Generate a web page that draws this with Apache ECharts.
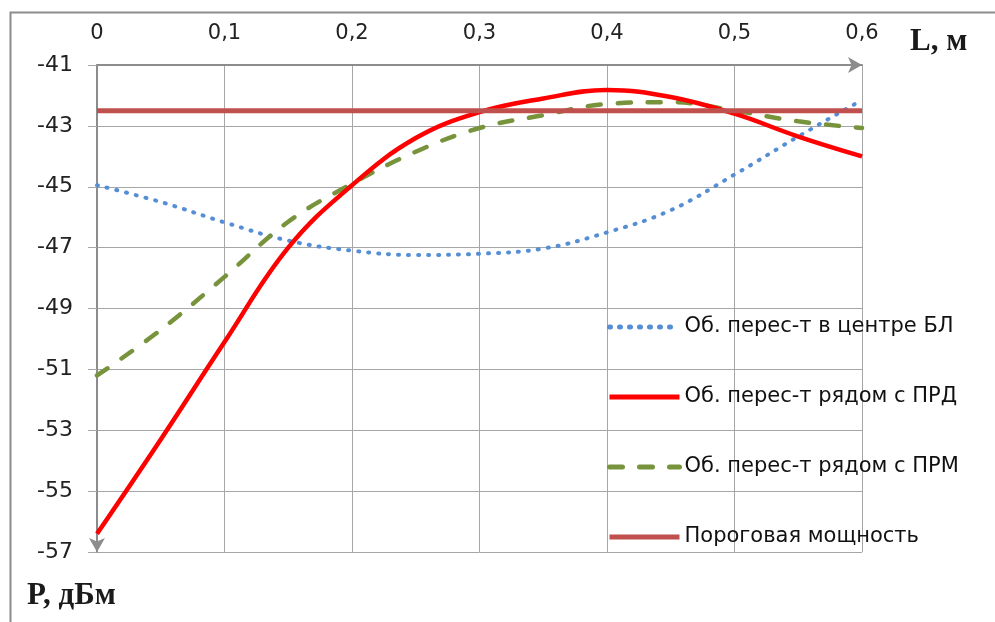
<!DOCTYPE html>
<html>
<head>
<meta charset="utf-8">
<script src="https://cdn.jsdelivr.net/npm/echarts@6/dist/echarts.min.js"></script>
<style>
  html, body { margin: 0; padding: 0; background: #fff; }
  #chart { width: 995px; height: 622px; }
</style>
</head>
<body>
<div id="chart"></div>
<script>
// distance L, м
var lengths = [0, 0.05, 0.1, 0.15, 0.2, 0.25, 0.3, 0.35, 0.4, 0.45, 0.5, 0.55, 0.6]
// power P, дБм
var centerBL = [-44.95, -45.5, -46.17, -46.77, -47.1, -47.24, -47.2, -47.03, -46.5, -45.77, -44.6, -43.35, -42.15]
var nearPRD = [-56.4, -53.3, -50.1, -47.0, -44.95, -43.4, -42.55, -42.1, -41.82, -42.05, -42.6, -43.35, -44.0]
var nearPRM = [-51.2, -49.7, -47.96, -46.15, -44.9, -43.85, -43.07, -42.65, -42.28, -42.22, -42.5, -42.85, -43.07]
var thresholdX = [0, 0.6]
var thresholdP = [-42.5, -42.5]

var seriesNames = ['Об. перес-т в центре БЛ', 'Об. перес-т рядом с ПРД', 'Об. перес-т рядом с ПРМ', 'Пороговая мощность']

function pairs(xs, ys) {
  return xs.map(function (x, i) { return [x, ys[i]] })
}

var chart = echarts.init(document.getElementById('chart'))
var font = '"DejaVu Sans", sans-serif'

chart.setOption({
  animation: false,
  backgroundColor: '#fff',
  graphic: [
    {
      type: 'rect',
      left: 8,
      top: 10,
      shape: { width: 1100, height: 700 },
      style: { fill: 'none', stroke: '#8c8c8c', lineWidth: 2 },
      silent: true
    }
  ],
  grid: { left: 97, top: 65, right: 133, bottom: 70 },
  legend: {
    orient: 'vertical',
    left: 602,
    top: 310,
    itemWidth: 70,
    itemHeight: 14,
    itemGap: 46,
    data: seriesNames,
    itemStyle: { color: 'rgba(0,0,0,0)', borderWidth: 0 },
    lineStyle: { width: 5 },
    textStyle: { fontFamily: font, fontSize: 21, color: '#111', lineHeight: 24 }
  },
  xAxis: {
    type: 'value',
    position: 'top',
    min: 0,
    max: 0.6,
    interval: 0.1,
    name: 'L, м',
    nameLocation: 'end',
    nameGap: 10,
    nameTextStyle: {
      fontFamily: '"Liberation Serif", serif',
      fontWeight: 'bold',
      fontSize: 31,
      color: '#1a1a1a',
      verticalAlign: 'bottom',
      padding: [0, 0, 8, 38]
    },
    axisLine: {
      show: true,
      lineStyle: { color: '#8c8c8c', width: 2 },
      symbol: ['none', 'arrow'],
      symbolSize: [12, 14],
      symbolOffset: [0, 0]
    },
    axisTick: { show: false },
    axisLabel: {
      margin: 21,
      fontFamily: font,
      fontSize: 21,
      color: '#222',
      formatter: function (v) { return String(Math.round(v * 10) / 10).replace('.', ',') }
    },
    splitLine: { show: true, lineStyle: { color: '#a6a6a6', width: 1 } }
  },
  yAxis: {
    type: 'value',
    min: -57,
    max: -41,
    interval: 2,
    name: 'P, дБм',
    nameLocation: 'start',
    nameGap: 28,
    nameTextStyle: {
      fontFamily: '"Liberation Serif", serif',
      fontWeight: 'bold',
      fontSize: 31,
      color: '#1a1a1a',
      align: 'left',
      padding: [0, 0, 0, -70]
    },
    axisLine: {
      show: true,
      lineStyle: { color: '#8c8c8c', width: 2 },
      symbol: ['arrow', 'none'],
      symbolSize: [12, 14]
    },
    axisTick: { show: true, length: 9, lineStyle: { color: '#a6a6a6' } },
    axisLabel: {
      margin: 24,
      fontFamily: font,
      fontSize: 22,
      color: '#222'
    },
    splitLine: { show: true, lineStyle: { color: '#a6a6a6', width: 1 } }
  },
  series: [
    {
      name: seriesNames[0],
      type: 'line',
      smooth: 0.4,
      symbol: 'none',
      data: pairs(lengths, centerBL),
      itemStyle: { color: '#558ed5' },
      lineStyle: { color: '#558ed5', width: 4, type: [1, 9], cap: 'round' },
      z: 3
    },
    {
      name: seriesNames[1],
      type: 'line',
      smooth: 0.4,
      symbol: 'none',
      data: pairs(lengths, nearPRD),
      itemStyle: { color: '#ff0000' },
      lineStyle: { color: '#ff0000', width: 4.5 },
      z: 4
    },
    {
      name: seriesNames[2],
      type: 'line',
      smooth: 0.4,
      symbol: 'none',
      data: pairs(lengths, nearPRM),
      itemStyle: { color: '#77933c' },
      lineStyle: { color: '#77933c', width: 4.5, type: [13, 17], cap: 'round' },
      z: 3
    },
    {
      name: seriesNames[3],
      type: 'line',
      symbol: 'none',
      data: pairs(thresholdX, thresholdP),
      itemStyle: { color: '#c0504d' },
      lineStyle: { color: '#c0504d', width: 5 },
      z: 5
    }
  ]
})
</script>
</body>
</html>
